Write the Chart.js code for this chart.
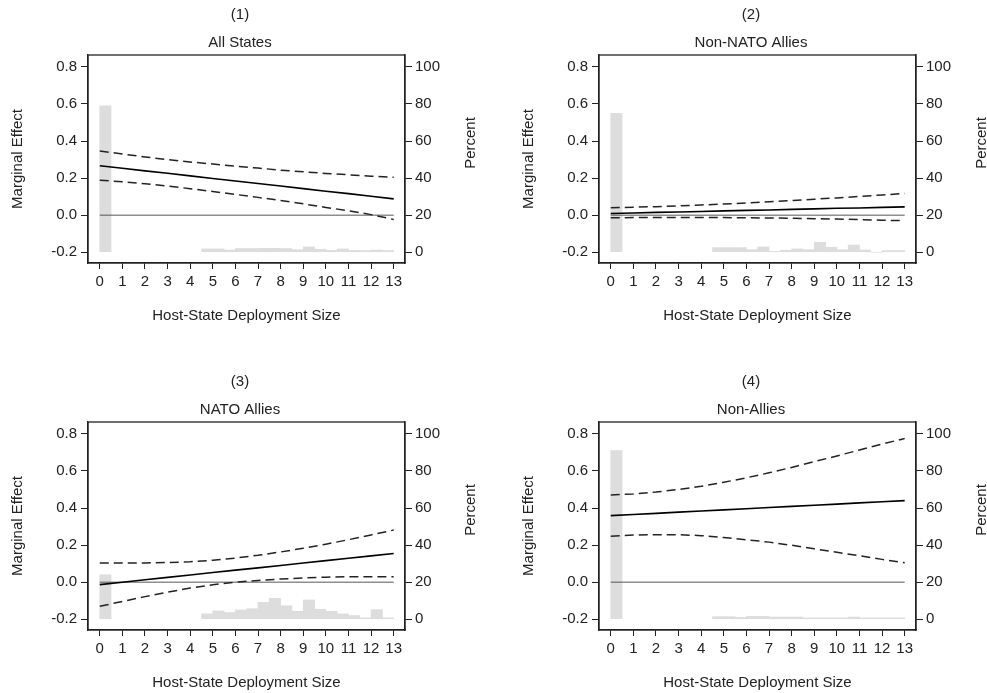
<!DOCTYPE html>
<html>
<head>
<meta charset="utf-8">
<script src="https://cdn.jsdelivr.net/npm/chart.js@4.4.1/dist/chart.umd.min.js"></script>
<style>
  html, body { margin: 0; padding: 0; background: #fff; overflow: hidden; }
  .panel { position: absolute; width: 480px; height: 326px; }
</style>
</head>
<body>
<div class="panel" style="left:0;top:0"><canvas id="c1" width="480" height="326"></canvas></div>
<div class="panel" style="left:511px;top:0"><canvas id="c2" width="480" height="326"></canvas></div>
<div class="panel" style="left:0;top:367px"><canvas id="c3" width="480" height="326"></canvas></div>
<div class="panel" style="left:511px;top:367px"><canvas id="c4" width="480" height="326"></canvas></div>
<script>
// deployment size points and tick labels
const xPoints = [0, 1, 2, 3, 4, 5, 6, 7, 8, 9, 10, 11, 12, 13];
const xTicks = [0, 1, 2, 3, 4, 5, 6, 7, 8, 9, 10, 11, 12, 13];
const leftTicks = [-0.2, 0, 0.2, 0.4, 0.6, 0.8];
const rightTicks = [0, 20, 40, 60, 80, 100];

// histogram bins (centres of 0.5 wide bins)
const binCenters = [0.25, 4.75, 5.25, 5.75, 6.25, 6.75, 7.25, 7.75, 8.25, 8.75, 9.25, 9.75, 10.25, 10.75, 11.25, 11.75, 12.25, 12.75];

// (1) All States
const allMain  = [0.267, 0.253, 0.239, 0.226, 0.212, 0.198, 0.184, 0.171, 0.157, 0.143, 0.129, 0.116, 0.102, 0.088];
const allUpper = [0.346, 0.330, 0.314, 0.300, 0.287, 0.276, 0.264, 0.254, 0.243, 0.234, 0.225, 0.218, 0.210, 0.204];
const allLower = [0.189, 0.180, 0.170, 0.157, 0.143, 0.128, 0.112, 0.096, 0.079, 0.061, 0.042, 0.024, 0.003, -0.023];
const allPct   = [79, 1.8, 1.8, 1.2, 2, 2, 2.1, 2.1, 2, 1.4, 2.9, 1.6, 1, 1.8, 1, 0.9, 1.2, 0.9];

// (2) Non-NATO Allies
const nonNatoMain  = [0.009, 0.012, 0.015, 0.017, 0.020, 0.023, 0.026, 0.028, 0.031, 0.034, 0.037, 0.039, 0.042, 0.045];
const nonNatoUpper = [0.040, 0.043, 0.046, 0.050, 0.055, 0.060, 0.066, 0.072, 0.079, 0.086, 0.093, 0.101, 0.109, 0.117];
const nonNatoLower = [-0.014, -0.013, -0.013, -0.013, -0.013, -0.013, -0.014, -0.015, -0.017, -0.019, -0.021, -0.024, -0.027, -0.030];
const nonNatoPct   = [75, 2.5, 2.5, 2.5, 1.4, 2.9, 0.4, 1.1, 1.8, 1.4, 5.4, 2.7, 1.4, 3.9, 1.2, 0, 0.9, 0.9];

// (3) NATO Allies
const natoMain  = [-0.013, 0.000, 0.013, 0.026, 0.039, 0.052, 0.065, 0.077, 0.090, 0.103, 0.116, 0.129, 0.142, 0.155];
const natoUpper = [0.104, 0.104, 0.104, 0.106, 0.110, 0.118, 0.130, 0.145, 0.163, 0.183, 0.205, 0.229, 0.255, 0.281];
const natoLower = [-0.130, -0.104, -0.078, -0.054, -0.032, -0.014, 0.000, 0.009, 0.017, 0.023, 0.027, 0.029, 0.029, 0.029];
const natoPct   = [24, 2.9, 4.5, 3.6, 5, 5.7, 9.1, 11.3, 7.3, 4.3, 10.4, 5.4, 4.3, 2.9, 2, 0.7, 5.2, 0.7];

// (4) Non-Allies
const nonAllyMain  = [0.359, 0.365, 0.371, 0.378, 0.384, 0.390, 0.396, 0.403, 0.409, 0.415, 0.421, 0.428, 0.434, 0.440];
const nonAllyUpper = [0.470, 0.476, 0.486, 0.500, 0.517, 0.539, 0.563, 0.590, 0.619, 0.650, 0.681, 0.713, 0.745, 0.775];
const nonAllyLower = [0.248, 0.254, 0.256, 0.256, 0.251, 0.241, 0.229, 0.216, 0.199, 0.180, 0.161, 0.143, 0.123, 0.105];
const nonAllyPct   = [91, 1.4, 1.4, 1, 1.6, 1.6, 1.2, 1.2, 1.2, 0.7, 0.7, 0.7, 0.7, 1.2, 0.7, 0.7, 0.7, 0.7];

const FONT = "'Liberation Sans', Arial, sans-serif";
const INK = "#222";

// frame round the plot area (top edge included) + right axis title read bottom-up
const frame = {
  id: "frame",
  afterDatasetsDraw(chart) {
    const a = chart.chartArea;
    const ctx = chart.ctx;
    ctx.save();
    ctx.strokeStyle = INK;
    ctx.lineWidth = 1.3;
    ctx.strokeRect(a.left, a.top, a.right - a.left, a.bottom - a.top);
    ctx.restore();

    ctx.save();
    ctx.translate(chart.width - 9, a.top + 88);
    ctx.rotate(-Math.PI / 2);
    ctx.fillStyle = INK;
    ctx.font = "15px " + FONT;
    ctx.textAlign = "center";
    ctx.textBaseline = "middle";
    ctx.fillText("Percent", 0, 0);
    ctx.restore();
  }
};

function pts(ys) {
  return xPoints.map((x, i) => ({ x: x, y: ys[i] }));
}

function makePanel(id, num, name, main, upper, lower, pct) {
  const ctx = document.getElementById(id).getContext("2d");
  return new Chart(ctx, {
    type: "bar",
    data: {
      datasets: [
        {
          type: "bar",
          data: binCenters.map((x, i) => ({ x: x, y: pct[i] })),
          yAxisID: "y2",
          backgroundColor: "#dddddd",
          borderWidth: 0,
          barPercentage: 1,
          categoryPercentage: 1,
          order: 10
        },
        {
          type: "line",
          data: [{ x: xPoints[0], y: 0 }, { x: xPoints[xPoints.length - 1], y: 0 }],
          yAxisID: "y",
          borderColor: "#555",
          borderWidth: 1,
          pointRadius: 0,
          order: 3
        },
        {
          type: "line",
          data: pts(upper),
          yAxisID: "y",
          borderColor: INK,
          borderWidth: 1.5,
          borderDash: [9, 5],
          pointRadius: 0,
          order: 2
        },
        {
          type: "line",
          data: pts(lower),
          yAxisID: "y",
          borderColor: INK,
          borderWidth: 1.5,
          borderDash: [9, 5],
          pointRadius: 0,
          order: 2
        },
        {
          type: "line",
          data: pts(main),
          yAxisID: "y",
          borderColor: "#000",
          borderWidth: 1.6,
          pointRadius: 0,
          order: 1
        }
      ]
    },
    options: {
      responsive: false,
      animation: false,
      layout: { padding: 0 },
      plugins: {
        legend: { display: false },
        tooltip: { enabled: false },
        title: {
          display: true,
          text: num,
          color: INK,
          font: { family: FONT, size: 15, weight: "normal" },
          padding: { top: 6, bottom: 0 }
        },
        subtitle: {
          display: true,
          text: name,
          color: INK,
          font: { family: FONT, size: 15, weight: "normal" },
          padding: { top: 10, bottom: 3 }
        }
      },
      scales: {
        x: {
          type: "linear",
          position: "bottom",
          min: -0.52,
          max: 13.5,
          offset: false,
          afterBuildTicks: (s) => { s.ticks = xTicks.map((v) => ({ value: v })); },
          afterFit: (s) => { s.height = 63; },
          grid: { drawOnChartArea: false, drawTicks: true, tickLength: 6, color: INK, offset: false },
          border: { display: true, color: INK, width: 1.3 },
          ticks: { color: INK, font: { family: FONT, size: 15 }, padding: 4, maxRotation: 0, autoSkip: false },
          title: {
            display: true,
            text: "Host-State Deployment Size",
            color: INK,
            font: { family: FONT, size: 15 },
            padding: { top: 0, bottom: 1 }
          }
        },
        y: {
          type: "linear",
          position: "left",
          min: -0.258,
          max: 0.864,
          afterBuildTicks: (s) => { s.ticks = leftTicks.map((v) => ({ value: v })); },
          afterFit: (s) => { s.width = 88; },
          grid: { drawOnChartArea: false, drawTicks: true, tickLength: 7, color: INK },
          border: { display: true, color: INK, width: 1.3 },
          ticks: {
            color: INK,
            font: { family: FONT, size: 15 },
            padding: 4,
            callback: (v) => v.toFixed(1)
          },
          title: {
            display: true,
            text: "Marginal Effect",
            color: INK,
            font: { family: FONT, size: 15 },
            padding: { top: 9, bottom: 0 }
          }
        },
        y2: {
          type: "linear",
          position: "right",
          min: -5.8,
          max: 106.4,
          afterBuildTicks: (s) => { s.ticks = rightTicks.map((v) => ({ value: v })); },
          afterFit: (s) => { s.width = 75; },
          grid: { drawOnChartArea: false, drawTicks: true, tickLength: 7, color: INK },
          border: { display: true, color: INK, width: 1.3 },
          ticks: { color: INK, font: { family: FONT, size: 15 }, padding: 3 },
          title: { display: false }
        }
      }
    },
    plugins: [frame]
  });
}

makePanel("c1", "(1)", "All States", allMain, allUpper, allLower, allPct);
makePanel("c2", "(2)", "Non-NATO Allies", nonNatoMain, nonNatoUpper, nonNatoLower, nonNatoPct);
makePanel("c3", "(3)", "NATO Allies", natoMain, natoUpper, natoLower, natoPct);
makePanel("c4", "(4)", "Non-Allies", nonAllyMain, nonAllyUpper, nonAllyLower, nonAllyPct);
</script>
</body>
</html>
